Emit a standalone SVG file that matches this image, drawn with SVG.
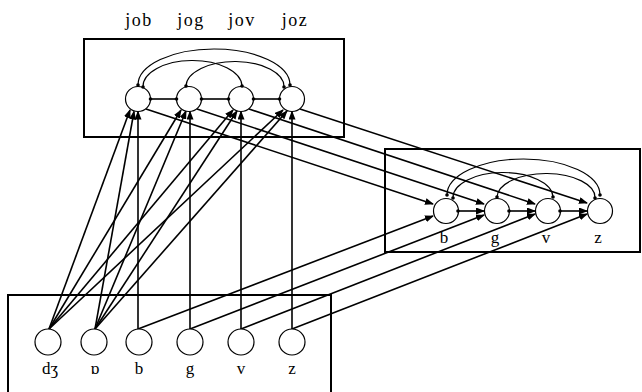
<svg xmlns="http://www.w3.org/2000/svg" width="642" height="392" viewBox="0 0 642 392">
<style>
.box{fill:none;stroke:#000;stroke-width:2}
.node{fill:#fff;stroke:#000;stroke-width:1.2}
.c{fill:none;stroke:#000;stroke-width:1.6}
.arc{fill:none;stroke:#000;stroke-width:1.2}
.dot{fill:#000}
text{font-family:"Liberation Serif","Times New Roman","DejaVu Serif",serif;font-size:17px;fill:#000;text-anchor:middle}
.tl{font-size:18px;letter-spacing:1.5px}
</style>
<defs>
<marker id="ah" markerUnits="userSpaceOnUse" markerWidth="9" markerHeight="7" refX="8" refY="3.5" orient="auto">
<path d="M0,0 L9,3.5 L0,7 z" fill="#000"/>
</marker>
</defs>
<rect class="box" x="84" y="39" width="260" height="98"/>
<rect class="box" x="385" y="149" width="255" height="103"/>
<rect class="box" x="8" y="295" width="323" height="100"/>
<g id="labels-top">
<text class="tl" x="139" y="26">job</text>
<text class="tl" x="191" y="26">jog</text>
<text class="tl" x="242" y="26">jov</text>
<text class="tl" x="295" y="26">joz</text>
</g>
<g id="connectors">
<g marker-end="url(#ah)" class="c">
<line x1="49" y1="329" x2="130" y2="110"/>
<line x1="49" y1="329" x2="181" y2="110"/>
<line x1="49" y1="329" x2="233" y2="110"/>
<line x1="49" y1="329" x2="283" y2="110"/>
<line x1="95" y1="329" x2="134" y2="111.5"/>
<line x1="95" y1="329" x2="186" y2="111"/>
<line x1="95" y1="329" x2="237" y2="111"/>
<line x1="95" y1="329" x2="287" y2="111"/>
<line x1="138" y1="329" x2="138" y2="111.5"/>
<line x1="190" y1="329" x2="190" y2="111.5"/>
<line x1="241" y1="329" x2="241" y2="111.5"/>
<line x1="292" y1="329" x2="292" y2="111.5"/>
<line x1="138" y1="329" x2="433" y2="216"/>
<line x1="190" y1="329" x2="484" y2="215"/>
<line x1="241" y1="329" x2="535" y2="214"/>
<line x1="292" y1="329" x2="587" y2="214"/>
<line x1="146" y1="109" x2="433" y2="204"/>
<line x1="197" y1="109" x2="484" y2="204"/>
<line x1="249" y1="109" x2="535" y2="204"/>
<line x1="300" y1="109" x2="587" y2="203"/>
<line x1="458" y1="211" x2="484" y2="211"/>
<line x1="509" y1="211" x2="535" y2="211"/>
<line x1="560" y1="211" x2="587" y2="211"/>
</g>
<line class="c" x1="150.5" y1="99" x2="176.5" y2="99"/>
<line class="c" x1="201.5" y1="99" x2="228.5" y2="99"/>
<line class="c" x1="253.5" y1="99" x2="279.5" y2="99"/>
<path class="arc" d="M138,85 A76,36 0 0 1 290,85"/>
<path class="arc" d="M143,87 A49.5,26 0 0 1 242,86"/>
<path class="arc" d="M186,86 A49,25 0 0 1 284,87"/>
<path class="arc" d="M447,195 A76.5,36 0 0 1 600,195"/>
<path class="arc" d="M453,198 A50,25 0 0 1 553,197"/>
<path class="arc" d="M497,197 A49,24 0 0 1 595,198"/>
</g>
<g id="top-nodes">
<circle id="job" class="node" cx="138" cy="99" r="12.5"/>
<circle id="jog" class="node" cx="189" cy="99" r="12.5"/>
<circle id="jov" class="node" cx="241" cy="99" r="12.5"/>
<circle id="joz" class="node" cx="292" cy="99" r="12.5"/>
</g>
<g id="right-nodes">
<g id="rb"><circle class="node" cx="446" cy="211" r="12.5"/><text x="444" y="243">b</text></g>
<g id="rg"><circle class="node" cx="497" cy="211" r="12.5"/><text x="495" y="243">g</text></g>
<g id="rv"><circle class="node" cx="548" cy="211" r="12.5"/><text x="546" y="243">v</text></g>
<g id="rz"><circle class="node" cx="600" cy="211" r="12.5"/><text x="598" y="243">z</text></g>
</g>
<g id="bottom-nodes">
<g id="bdz"><circle class="node" cx="48" cy="342" r="13"/><text x="50" y="374">dʒ</text></g>
<g id="bo"><circle class="node" cx="94" cy="342" r="13"/><text x="95" y="374">ɒ</text></g>
<g id="bb"><circle class="node" cx="139" cy="342" r="13"/><text x="139" y="374">b</text></g>
<g id="bg"><circle class="node" cx="190" cy="342" r="13"/><text x="190" y="374">g</text></g>
<g id="bv"><circle class="node" cx="241" cy="342" r="13"/><text x="241" y="374">v</text></g>
<g id="bz"><circle class="node" cx="292" cy="342" r="13"/><text x="292" y="374">z</text></g>
</g>
<g id="dots" class="dot">
<circle cx="150.5" cy="99" r="1.8"/><circle cx="176.5" cy="99" r="1.8"/>
<circle cx="201.5" cy="99" r="1.8"/><circle cx="228.5" cy="99" r="1.8"/>
<circle cx="253.5" cy="99" r="1.8"/><circle cx="279.5" cy="99" r="1.8"/>
<circle cx="138" cy="85" r="1.8"/><circle cx="290" cy="85" r="1.8"/>
<circle cx="143" cy="87" r="1.8"/><circle cx="242" cy="86" r="1.8"/>
<circle cx="186" cy="86" r="1.8"/><circle cx="284" cy="87" r="1.8"/>
<circle cx="458" cy="211" r="1.8"/><circle cx="509" cy="211" r="1.8"/><circle cx="560" cy="211" r="1.8"/>
<circle cx="447" cy="195" r="1.8"/><circle cx="600" cy="195" r="1.8"/>
<circle cx="453" cy="198" r="1.8"/><circle cx="553" cy="197" r="1.8"/>
<circle cx="497" cy="197" r="1.8"/><circle cx="595" cy="198" r="1.8"/>
</g>
</svg>
